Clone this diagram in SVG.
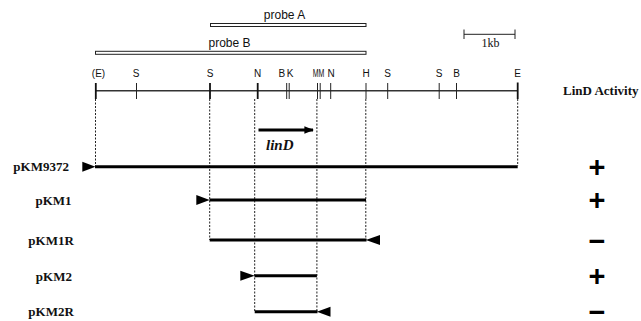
<svg xmlns="http://www.w3.org/2000/svg" width="641" height="321" viewBox="0 0 641 321">
  <style>
    .bg { fill: #ffffff; }
    .sans { font-family: "Liberation Sans", Arial, sans-serif; fill: #111; }
    .site { font-size: 10px; text-anchor: middle; }
    .probe-label { font-size: 12px; text-anchor: middle; }
    .serif { font-family: "Liberation Serif", "Times New Roman", serif; fill: #111; }
    .bold { font-weight: bold; }
    .probe { fill: #ffffff; stroke: #222; stroke-width: 1; }
    .map { stroke: #333; stroke-width: 1.6; fill: none; }
    .tick { stroke: #222; stroke-width: 1; }
    .tick-strong { stroke: #111; stroke-width: 1.8; }
    .dotted { stroke: #222; stroke-width: 1; stroke-dasharray: 2 1.5; fill: none; }
    .insert { stroke: #000; stroke-width: 3; fill: none; }
    .head { fill: #000; }
    .sign { font-family: "Liberation Sans", Arial, sans-serif; font-weight: bold; font-size: 29px; text-anchor: middle; fill: #000; }
  </style>
  <defs>
    <marker id="gene-head" viewBox="0 0 10 8" refX="9" refY="4" markerWidth="3.2" markerHeight="2.6" orient="auto" markerUnits="strokeWidth">
      <path d="M0,0 L10,4 L0,8 Z" class="head"/>
    </marker>
  </defs>

  <rect class="bg" x="0" y="0" width="641" height="321"/>

  <!-- hybridisation probes -->
  <g id="probeA">
    <rect class="probe" x="210.5" y="23.5" width="155.5" height="3"/>
    <text class="sans probe-label" x="284.5" y="19">probe A</text>
  </g>
  <g id="probeB">
    <rect class="probe" x="95.5" y="51.3" width="270.5" height="3"/>
    <text class="sans probe-label" x="229.5" y="46.5">probe B</text>
  </g>

  <!-- scale bar -->
  <g id="scale">
    <line class="tick" x1="464" y1="34.3" x2="515" y2="34.3"/>
    <line class="tick" x1="464" y1="29.5" x2="464" y2="39"/>
    <line class="tick" x1="515" y1="29.5" x2="515" y2="39"/>
    <text class="serif" x="481.5" y="47.3" font-size="12">1kb</text>
  </g>

  <!-- restriction map -->
  <g id="map">
    <line class="map" x1="95.5" y1="90.7" x2="517.7" y2="90.7"/>
    <line class="tick-strong" x1="95.8" y1="83" x2="95.8" y2="99"/>
    <line class="tick" x1="136.5" y1="83" x2="136.5" y2="99"/>
    <line class="tick-strong" x1="210" y1="83" x2="210" y2="99"/>
    <line class="tick-strong" x1="257.7" y1="83" x2="257.7" y2="99"/>
    <line class="tick" x1="286.7" y1="83" x2="286.7" y2="99"/>
    <line class="tick" x1="289.2" y1="83" x2="289.2" y2="99"/>
    <line class="tick" x1="317.5" y1="83" x2="317.5" y2="99"/>
    <line class="tick" x1="320.2" y1="83" x2="320.2" y2="99"/>
    <line class="tick" x1="330.7" y1="83" x2="330.7" y2="99"/>
    <line class="tick" x1="366" y1="83" x2="366" y2="99"/>
    <line class="tick" x1="387.7" y1="83" x2="387.7" y2="99"/>
    <line class="tick" x1="439.2" y1="83" x2="439.2" y2="99"/>
    <line class="tick" x1="456.5" y1="83" x2="456.5" y2="99"/>
    <line class="tick-strong" x1="517.7" y1="82.5" x2="517.7" y2="99"/>
    <text class="sans site" x="98.5" y="77.3">(E)</text>
    <text class="sans site" x="136" y="77.3">S</text>
    <text class="sans site" x="210" y="77.3">S</text>
    <text class="sans site" x="257.5" y="77.3">N</text>
    <text class="sans site" x="281.8" y="77.3">B</text>
    <text class="sans site" x="290.2" y="77.3">K</text>
    <!-- the two M sites sit close together, so their label is set condensed -->
    <text class="sans site" transform="scale(0.7,1)" x="455" y="77.3">MM</text>
    <text class="sans site" x="331" y="77.3">N</text>
    <text class="sans site" x="366" y="77.3">H</text>
    <text class="sans site" x="387.7" y="77.3">S</text>
    <text class="sans site" x="439.2" y="77.3">S</text>
    <text class="sans site" x="456.7" y="77.3">B</text>
    <text class="sans site" x="517.7" y="77.3">E</text>
  </g>

  <g id="activity-header">
    <text class="serif bold" x="563" y="95" font-size="13">LinD Activity</text>
  </g>

  <!-- linD gene -->
  <g id="linD">
    <line class="insert" x1="258.5" y1="130" x2="313" y2="130" marker-end="url(#gene-head)"/>
    <text class="serif bold" x="266" y="150" font-size="15" font-style="italic">linD</text>
  </g>

  <!-- dotted guides from map sites to the inserts -->
  <g id="connectors">
    <line class="dotted" x1="95.5" y1="99" x2="95.5" y2="166"/>
    <line class="dotted" x1="209.7" y1="99" x2="209.7" y2="240"/>
    <line class="dotted" x1="254.7" y1="99" x2="254.7" y2="311"/>
    <line class="dotted" x1="316.9" y1="99" x2="316.9" y2="311"/>
    <line class="dotted" x1="365.8" y1="99" x2="365.8" y2="240"/>
    <line class="dotted" x1="517.7" y1="99" x2="517.7" y2="166"/>
  </g>

  <!-- plasmid constructs -->
  <g id="pKM9372">
    <text class="serif bold" x="13.3" y="171" font-size="13">pKM9372</text>
    <path class="head" d="M82.3,161.7 L95.5,166.7 L82.3,171.7 Z"/>
    <line class="insert" x1="95" y1="166.7" x2="517.7" y2="166.7"/>
    <text class="sign" x="597" y="176.5">+</text>
  </g>
  <g id="pKM1">
    <text class="serif bold" x="35.5" y="204.5" font-size="13">pKM1</text>
    <path class="head" d="M196.3,195 L209.7,200 L196.3,205 Z"/>
    <line class="insert" x1="209.5" y1="200" x2="366" y2="200"/>
    <text class="sign" x="597" y="209.8">+</text>
  </g>
  <g id="pKM1R">
    <text class="serif bold" x="28.3" y="244.8" font-size="13">pKM1R</text>
    <line class="insert" x1="209.7" y1="240" x2="366.5" y2="240"/>
    <path class="head" d="M380,235 L365.8,240 L380,245 Z"/>
    <text class="sign" x="597" y="250.8">−</text>
  </g>
  <g id="pKM2">
    <text class="serif bold" x="35.8" y="280.5" font-size="13">pKM2</text>
    <path class="head" d="M240.3,270.7 L254.7,275.7 L240.3,280.7 Z"/>
    <line class="insert" x1="254.5" y1="275.7" x2="316.9" y2="275.7"/>
    <text class="sign" x="597" y="285.5">+</text>
  </g>
  <g id="pKM2R">
    <text class="serif bold" x="28.3" y="316.3" font-size="13">pKM2R</text>
    <line class="insert" x1="254.7" y1="311.7" x2="317.5" y2="311.7"/>
    <path class="head" d="M330.5,306.7 L316.9,311.7 L330.5,316.7 Z"/>
    <text class="sign" x="597" y="321.5">−</text>
  </g>
</svg>
